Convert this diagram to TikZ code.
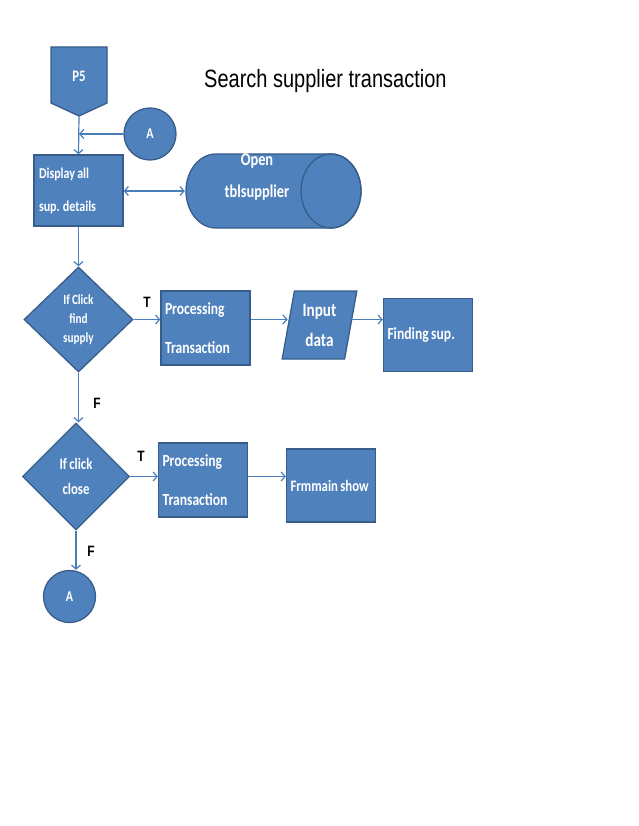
\documentclass[tikz,border=0pt]{standalone}
\usepackage{fontspec}
\usepackage{tikz}
\usetikzlibrary{shapes.geometric,arrows.meta}
\newfontfamily\boxfont[FakeStretch=0.8, WordSpace=0.8]{Carlito}
\newfontfamily\titlefont[FakeStretch=0.8]{Liberation Sans}
\definecolor{boxblue}{RGB}{79,129,189}
\definecolor{boxedge}{RGB}{56,93,138}
\definecolor{linkblue}{RGB}{74,126,187}

\begin{document}
\begin{tikzpicture}[x=1pt,y=1pt,yscale=-1,
  shapefill/.style={fill=boxblue, draw=boxedge, line width=1.3pt},
  procbox/.style={shapefill, rectangle, minimum width=89pt, minimum height=74pt, text width=81pt, inner xsep=4pt, align=flush left, text=white, font=\boxfont\bfseries\fontsize{17}{39}\selectfont},
  decbox/.style={shapefill, diamond, inner sep=0pt, align=center, text=white},
  conn/.style={shapefill, circle, minimum size=52pt, inner sep=0pt, text=white, font=\boxfont\bfseries\fontsize{15}{16}\selectfont},
  flow/.style={draw=linkblue, line width=1.2pt, -{Straight Barb[length=4pt,width=9pt]}},
  twoway/.style={flow, {Straight Barb[length=4pt,width=9pt]}-{Straight Barb[length=4pt,width=9pt]}},
  flowlabel/.style={inner sep=0pt, text=black, font=\titlefont\bfseries\fontsize{15}{16}\selectfont}]
\useasboundingbox (0,0) rectangle (638,826);

% Title
\node [anchor=base west, inner sep=0pt, font=\titlefont\fontsize{25}{30}\selectfont] (title) at (204,88) {Search supplier transaction};

% Off-page connector P5
\draw [shapefill] (51,47) -- (107,47) -- (107,103) -- (79,116) -- (51,103) -- cycle;
\node [inner sep=0pt, text=white, font=\boxfont\bfseries\fontsize{16}{16}\selectfont] (p5) at (79,76) {P5};
\coordinate (p5tip) at (79,116);

% Connector A (top)
\node [conn] (atop) at (150,134) {A};

% Display box
\node [procbox, minimum height=71pt, inner xsep=5pt, text width=79pt, font=\boxfont\bfseries\fontsize{15}{33}\selectfont] (disp) at (78.5,190.5) {Display all\\sup. details};

% Cylinder tblsupplier
\node [minimum width=176pt, minimum height=74pt, inner sep=0pt] (tbl) at (273,191) {};
\draw [shapefill] (216,154) -- (331,154) arc [start angle=-90, end angle=90, x radius=30, y radius=37]
  -- (216,228) arc [start angle=90, end angle=270, x radius=30, y radius=37] -- cycle;
\draw [draw=boxedge, line width=1.3pt] (331,191) ellipse [x radius=30, y radius=37];
\node [inner sep=0pt, align=center, text=white, font=\boxfont\bfseries\fontsize{18}{32}\selectfont] (tbltext) at (257,177) {Open\\tblsupplier};

% Decision 1
\node [decbox, minimum width=109pt, minimum height=105pt, font=\boxfont\bfseries\fontsize{14}{19}\selectfont] (dec1) at (78.5,319.5) {If Click\\find\\supply};

% Row 1
\node [procbox] (proc1) at (205.5,328) {Processing\\Transaction};
\node [shapefill, trapezium, trapezium left angle=79, trapezium right angle=101, trapezium stretches=true, minimum width=75pt, minimum height=68pt, inner sep=0pt, align=center, text=white, font=\boxfont\bfseries\fontsize{19}{30}\selectfont] (input) at (319.5,325) {Input\\data};
\node [procbox, minimum width=88pt, minimum height=73pt, font=\boxfont\bfseries\fontsize{17}{20}\selectfont] (find) at (428,335) {Finding sup.};

% Decision 2
\node [decbox, minimum width=107pt, minimum height=107pt, font=\boxfont\bfseries\fontsize{16}{25}\selectfont] (dec2) at (76,476.5) {If click\\close};

% Row 2
\node [procbox, minimum width=88pt] (proc2) at (203,480) {Processing\\Transaction};
\node [procbox, minimum width=88pt, minimum height=73pt, font=\boxfont\bfseries\fontsize{16}{20}\selectfont] (frm) at (331,485.5) {Frmmain show};

% Connector A (bottom)
\node [conn] (aend) at (69.5,596.5) {A};

% Labels
\node [flowlabel] (t1) at (147,302) {T};
\node [flowlabel] (f1) at (97,403) {F};
\node [flowlabel] (t2) at (141,456) {T};
\node [flowlabel] (f2) at (91,551) {F};

%Straight Lines
\draw [flow] (p5tip) -- (disp.north);
\draw [flow] (atop.west) -- (atop.west -| p5tip);
\draw [twoway] (disp.east |- tbl.west) -- (tbl.west);
\draw [flow] (disp.south) -- (dec1.north);
\draw [flow] (dec1.east) -- (dec1.east -| proc1.west);
\draw [flow] (dec1.east -| proc1.east) -- (dec1.east -| input.west);
\draw [flow] (dec1.east -| input.east) -- (dec1.east -| find.west);
\draw [flow] (dec1.south) -- (dec1.south |- dec2.north);
\draw [flow] (dec2.east) -- (dec2.east -| proc2.west);
\draw [flow] (dec2.east -| proc2.east) -- (dec2.east -| frm.west);
\draw [flow] (dec2.south) -- (dec2.south |- aend.north);

\end{tikzpicture}
\end{document}
